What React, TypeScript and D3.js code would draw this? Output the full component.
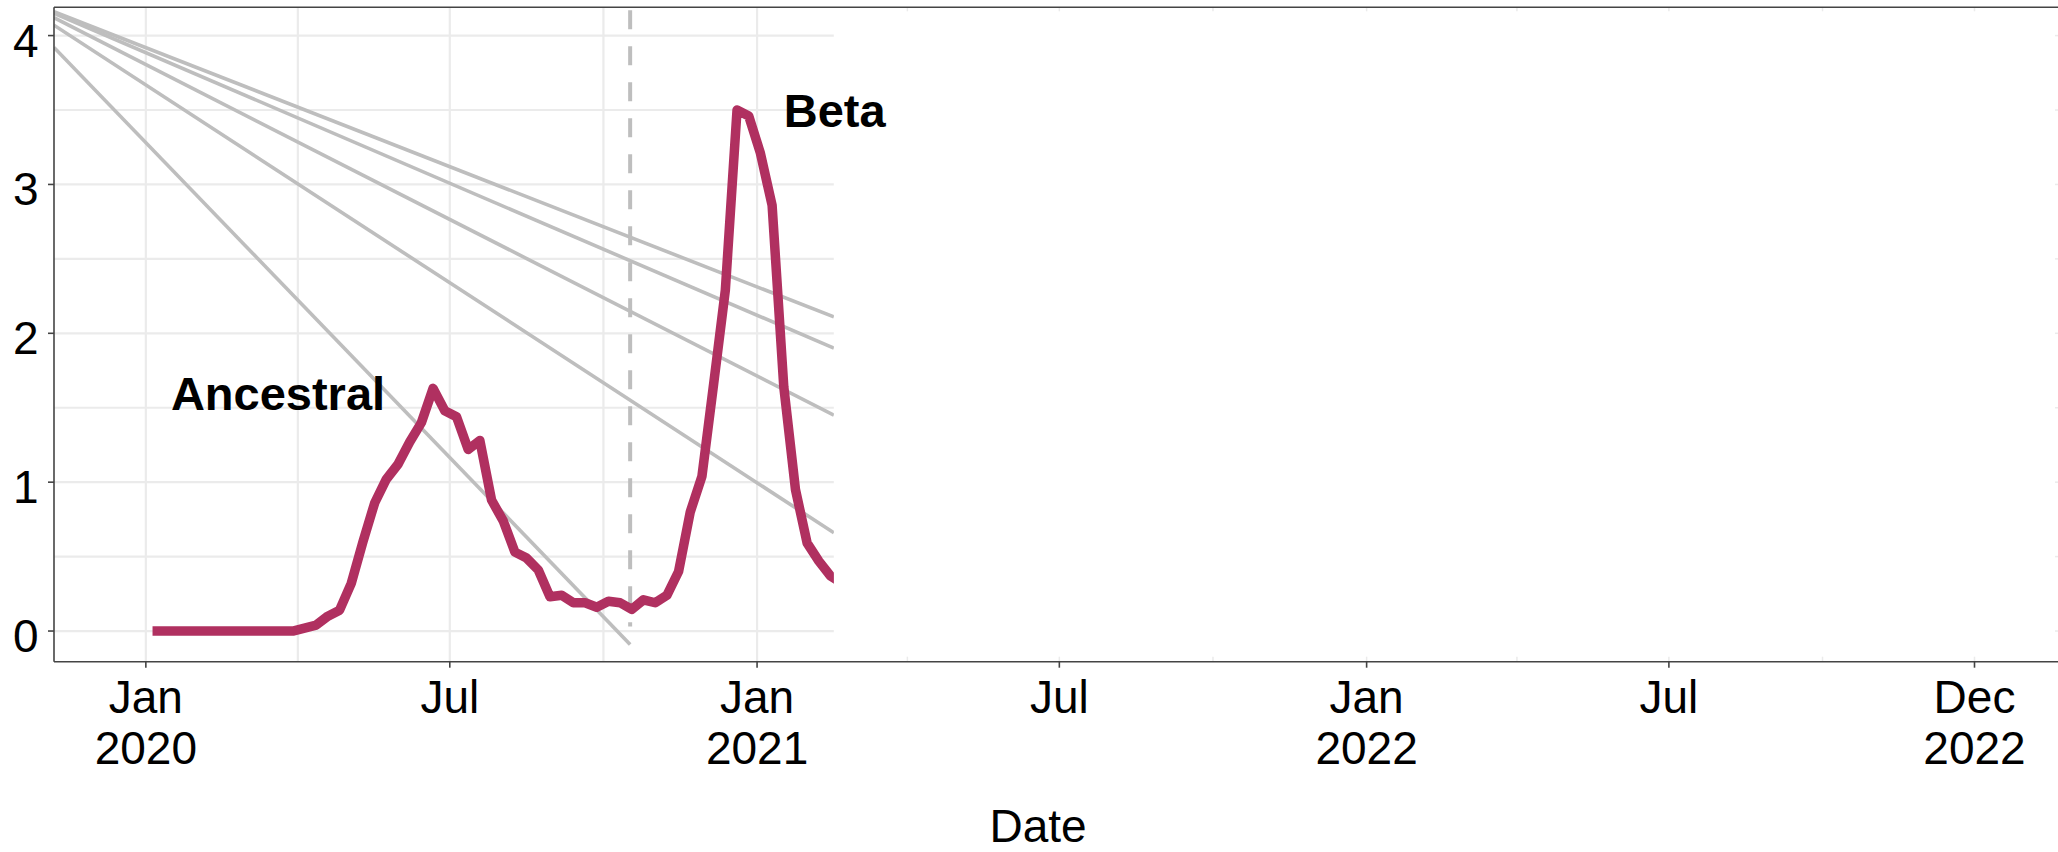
import React from "react";
import * as d3 from "d3";

// ---- data ----
const seriesStart = Date.UTC(2020, 0, 5);
const weeklyValues = [
  0, 0, 0, 0, 0, 0, 0, 0, 0, 0, 0, 0, 0, 0.02, 0.04, 0.1, 0.14, 0.32, 0.6, 0.86,
  1.02, 1.12, 1.27, 1.4, 1.63, 1.48, 1.44, 1.22, 1.28, 0.88, 0.74, 0.53, 0.49,
  0.41, 0.23, 0.24, 0.19, 0.19, 0.16, 0.2, 0.19, 0.145, 0.21, 0.19, 0.24, 0.4,
  0.8, 1.04, 1.66, 2.29, 3.5, 3.46, 3.21, 2.86, 1.64, 0.95, 0.59, 0.47, 0.37, 0.32,
];

const greyStartValues = [4.16, 4.15, 4.12, 4.07, 3.92];
const greyEndDates = [
  Date.UTC(2021, 1, 16),
  Date.UTC(2021, 1, 16),
  Date.UTC(2021, 1, 16),
  Date.UTC(2021, 1, 16),
  Date.UTC(2020, 9, 17),
];
const greyEndValues = [2.11, 1.9, 1.45, 0.66, -0.09];

const dashedDate = Date.UTC(2020, 9, 17);
const dashedRange = [0.03, 4.17];

const xTickDates = [
  Date.UTC(2020, 0, 1),
  Date.UTC(2020, 6, 1),
  Date.UTC(2021, 0, 1),
  Date.UTC(2021, 6, 1),
  Date.UTC(2022, 0, 1),
  Date.UTC(2022, 6, 1),
  Date.UTC(2022, 11, 31),
];
const xTickLabels = [
  ["Jan", "2020"],
  ["Jul", ""],
  ["Jan", "2021"],
  ["Jul", ""],
  ["Jan", "2022"],
  ["Jul", ""],
  ["Dec", "2022"],
];
const xGridDates = [
  Date.UTC(2020, 0, 1),
  Date.UTC(2020, 3, 1),
  Date.UTC(2020, 6, 1),
  Date.UTC(2020, 9, 1),
  Date.UTC(2021, 0, 1),
];
const xStubDates = [
  Date.UTC(2021, 3, 1),
  Date.UTC(2021, 6, 1),
  Date.UTC(2021, 9, 1),
  Date.UTC(2022, 0, 1),
  Date.UTC(2022, 3, 1),
  Date.UTC(2022, 6, 1),
  Date.UTC(2022, 9, 1),
  Date.UTC(2022, 11, 31),
];
const yTicks = [0, 1, 2, 3, 4];
const yGrid = [0, 0.5, 1, 1.5, 2, 2.5, 3, 3.5, 4];

const labels = [
  { text: "Ancestral", date: Date.UTC(2020, 0, 16), value: 1.485 },
  { text: "Beta", date: Date.UTC(2021, 0, 17), value: 3.385 },
];

const xDomain = [Date.UTC(2019, 10, 7), Date.UTC(2023, 1, 19)];
const yDomain = [-0.206, 4.19];
const clipDate = Date.UTC(2021, 1, 16);

// ---- layout ----
const W = 2058;
const H = 852;
const left = 54;
const right = 2058;
const top = 7.3;
const bottom = 661.7;

export default function App() {
  const x = d3.scaleUtc().domain(xDomain.map((d) => new Date(d))).range([left, right]);
  const y = d3.scaleLinear().domain(yDomain).range([bottom, top]);
  const clipX = x(new Date(clipDate));

  const series = weeklyValues.map((v, i) => ({
    date: d3.utcDay.offset(new Date(seriesStart), 7 * i),
    value: v,
  }));
  const line = d3
    .line<{ date: Date; value: number }>()
    .x((d) => x(d.date))
    .y((d) => y(d.value));

  const font = "'Liberation Sans', Arial, Helvetica, sans-serif";
  const grey = "#BEBEBE";
  const grid = "#EBEBEB";
  const axisCol = "#444444";

  return (
    <svg
      width={W}
      height={H}
      style={{ position: "absolute", left: 0, top: 0, background: "#fff" }}
      fontFamily={font}
    >
      <defs>
        <clipPath id="panel">
          <rect x={left} y={top} width={clipX - left} height={bottom - top} />
        </clipPath>
      </defs>

      <g clipPath="url(#panel)">
        {yGrid.map((v) => (
          <line key={"hg" + v} x1={left} x2={clipX} y1={y(v)} y2={y(v)} stroke={grid} strokeWidth={2.2} />
        ))}
        {xGridDates.map((d) => (
          <line key={"vg" + d} x1={x(new Date(d))} x2={x(new Date(d))} y1={top} y2={bottom} stroke={grid} strokeWidth={2.2} />
        ))}
        {greyStartValues.map((v, i) => (
          <line
            key={"gl" + i}
            x1={x(new Date(xDomain[0]))}
            y1={y(v)}
            x2={x(new Date(greyEndDates[i]))}
            y2={y(greyEndValues[i])}
            stroke={grey}
            strokeWidth={3.6}
          />
        ))}
        <line
          x1={x(new Date(dashedDate))}
          x2={x(new Date(dashedDate))}
          y1={y(dashedRange[1])}
          y2={y(dashedRange[0])}
          stroke={grey}
          strokeWidth={4}
          strokeDasharray="19 17"
        />
        <path d={line(series) || ""} fill="none" stroke="#B03060" strokeWidth={9.5} strokeLinejoin="round" />
      </g>

      {/* stubs outside clip */}
      {xStubDates.map((d) => (
        <g key={"st" + d}>
          <line x1={x(new Date(d))} x2={x(new Date(d))} y1={bottom - 5} y2={bottom} stroke={grid} strokeWidth={1.5} />
          <line x1={x(new Date(d))} x2={x(new Date(d))} y1={top} y2={top + 4} stroke={grid} strokeWidth={1.5} />
        </g>
      ))}
      {yGrid.map((v) => (
        <line key={"rs" + v} x1={right - 3} x2={right} y1={y(v)} y2={y(v)} stroke={grid} strokeWidth={1.5} />
      ))}

      {/* axes */}
      <line x1={left} x2={right} y1={top} y2={top} stroke={axisCol} strokeWidth={1.6} />
      <line x1={left} x2={right} y1={bottom} y2={bottom} stroke={axisCol} strokeWidth={1.6} />
      <line x1={left} x2={left} y1={top} y2={bottom} stroke={axisCol} strokeWidth={1.6} />

      {yTicks.map((v) => (
        <g key={"yt" + v}>
          <line x1={left - 6} x2={left} y1={y(v)} y2={y(v)} stroke={axisCol} strokeWidth={1.6} />
          <text x={38.5} y={y(v) + 21} textAnchor="end" fontSize={46} fill="#000">
            {v}
          </text>
        </g>
      ))}

      {xTickDates.map((d, i) => (
        <g key={"xt" + d}>
          <line x1={x(new Date(d))} x2={x(new Date(d))} y1={bottom} y2={bottom + 6} stroke={axisCol} strokeWidth={1.6} />
          <text x={x(new Date(d))} y={713.3} textAnchor="middle" fontSize={46} fill="#000">
            {xTickLabels[i][0]}
          </text>
          {xTickLabels[i][1] && (
            <text x={x(new Date(d))} y={764} textAnchor="middle" fontSize={46} fill="#000">
              {xTickLabels[i][1]}
            </text>
          )}
        </g>
      ))}

      <text x={1038} y={842} textAnchor="middle" fontSize={46} fill="#000">
        Date
      </text>

      {labels.map((l) => (
        <text key={l.text} x={x(new Date(l.date))} y={y(l.value)} fontSize={47} fontWeight="bold" fill="#000">
          {l.text}
        </text>
      ))}
    </svg>
  );
}
